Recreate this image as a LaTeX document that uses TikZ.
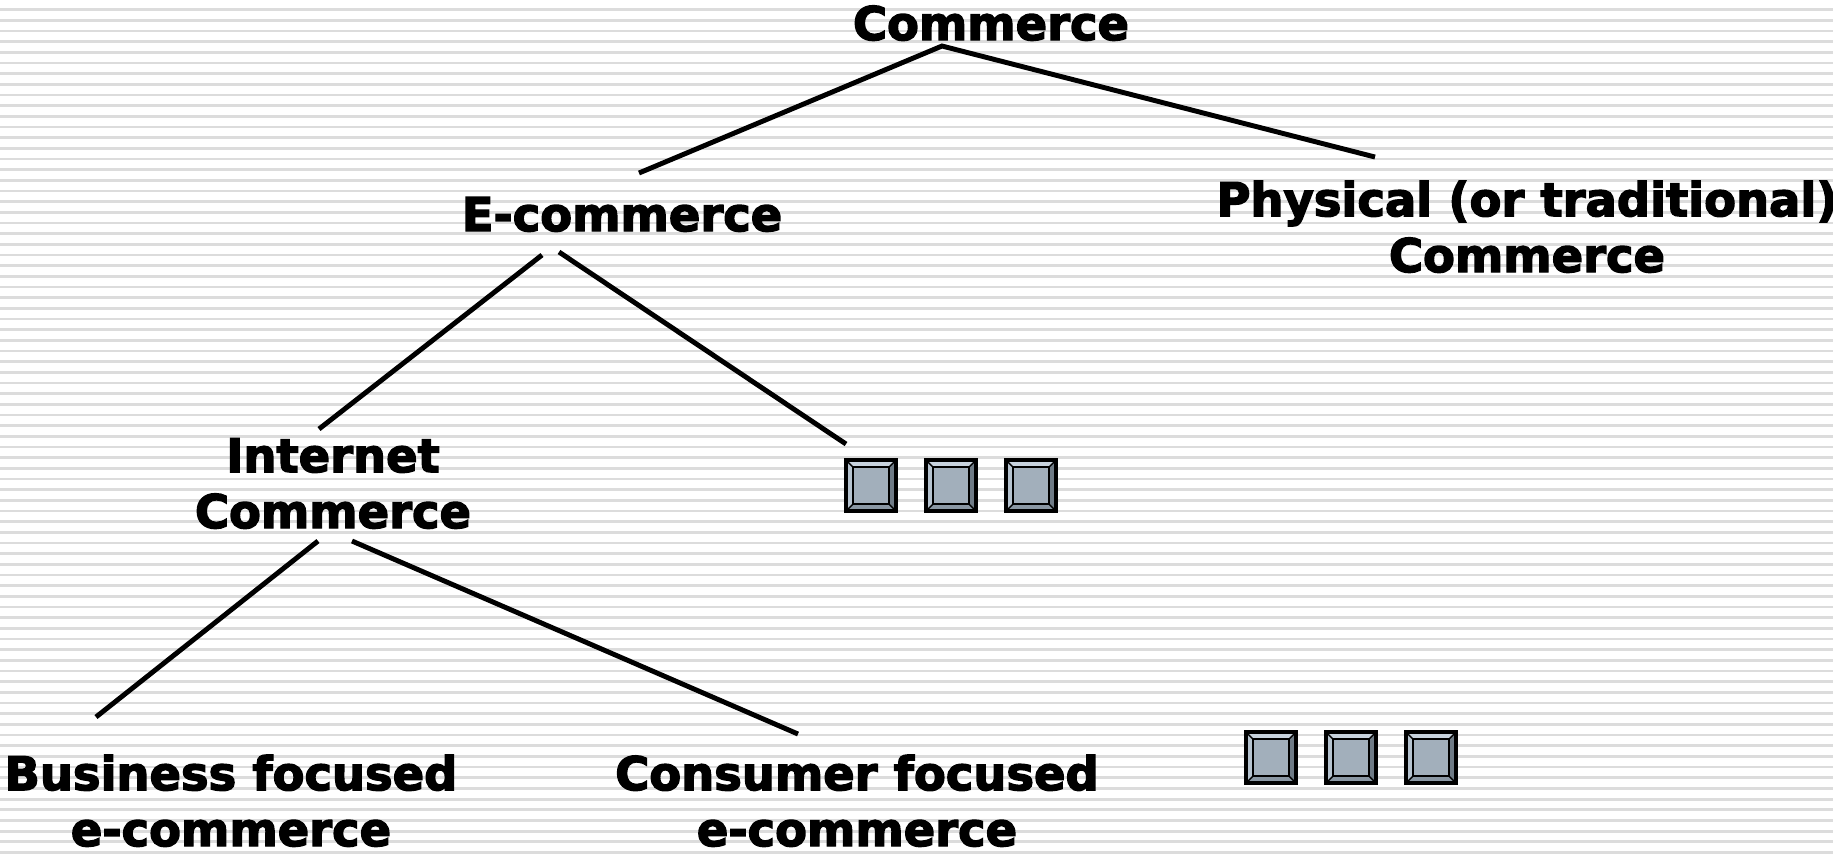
\documentclass[tikz,border=0pt]{standalone}
\usepackage{fontspec}
\setmainfont{DejaVu Sans}[BoldFeatures={FakeBold=3}]
\usepackage{tikz}
\usetikzlibrary{calc}
\definecolor{stripegray}{HTML}{DCDCDC}
\definecolor{boxmid}{HTML}{A2AFBB}
\definecolor{boxlight}{HTML}{C8D3DE}
\definecolor{boxleft}{HTML}{B6C3CF}
\definecolor{boxdark}{HTML}{6F7B86}
\definecolor{boxlow}{HTML}{8A97A3}
\tikzset{
  label/.style={font=\fontsize{13.2}{15.9}\selectfont\bfseries, align=center, anchor=base, inner sep=0pt},
  branch/.style={line width=1.4pt}
}
\def\bevelbox(#1,#2){
  \begin{scope}[shift={(#1,#2)}]
    \fill[boxlight] (0,0) -- (50,0) -- (43,7) -- (7,7) -- cycle;
    \fill[boxleft] (0,0) -- (7,7) -- (7,44) -- (0,51) -- cycle;
    \fill[boxdark] (50,0) -- (50,51) -- (43,44) -- (43,7) -- cycle;
    \fill[boxlow] (0,51) -- (50,51) -- (43,44) -- (7,44) -- cycle;
    \fill[boxmid] (7,7) rectangle (43,44);
    \draw[line width=0.4pt] (0,0) -- (7,7) (50,0) -- (43,7) (0,51) -- (7,44) (50,51) -- (43,44);
    \draw[line width=0.7pt] (7,7) rectangle (43,44);
    \draw[line width=0.9pt] (0,0) rectangle (50,51);
  \end{scope}
}

\begin{document}
\begin{tikzpicture}[x=0.01cm, y=-0.01cm]
			%%%%% BACKGROUND %%%%%
			\useasboundingbox (0,0) rectangle (1833,853);
			\fill[white] (0,0) rectangle (1833,853);
			\foreach \i in {0,...,79}
				\fill[stripegray] (0,{8.2+10.67*\i}) rectangle (1833,{10.9+10.67*\i});
			
			%%%%% LABELS %%%%%
			% base of a two-line label is its last line
			\node[label] (commerce) at (991,40) {Commerce};
			\node[label] (ecommerce) at (622,231) {E-commerce};
			\node[label] (physical) at (1527,272) {Physical (or traditional)\\Commerce};
			\node[label] (internet) at (333,528) {Internet\\Commerce};
			\node[label] (business) at (231,846) {Business focused\\e-commerce};
			\node[label] (consumer) at (857,846) {Consumer focused\\e-commerce};
			
			%%%%% END POINTS %%%%%
			\coordinate (comm-s) at (942,46);
			\coordinate (ecom-n) at (639,173);
			\coordinate (phys-n) at (1375,157);
			\coordinate (ecom-sl) at (542,255);
			\coordinate (ecom-sr) at (559,252);
			\coordinate (inet-n) at (319,429);
			\coordinate (more-n) at (846,444);
			\coordinate (inet-sl) at (318,541);
			\coordinate (inet-sr) at (352,541);
			\coordinate (bus-n) at (96,717);
			\coordinate (con-n) at (798,734);
			
			%%%%% BRANCHES %%%%%
			\draw[branch] (ecom-n) -- (comm-s) -- (phys-n);
			\draw[branch] (ecom-sl) -- (inet-n);
			\draw[branch] (ecom-sr) -- (more-n);
			\draw[branch] (inet-sl) -- (bus-n);
			\draw[branch] (inet-sr) -- (con-n);
			
			%%%%% BOXES %%%%%
			\bevelbox(846,460)
			\bevelbox(926,460)
			\bevelbox(1006,460)
			
			\bevelbox(1246,732)
			\bevelbox(1326,732)
			\bevelbox(1406,732)
			
\end{tikzpicture}
\end{document}
